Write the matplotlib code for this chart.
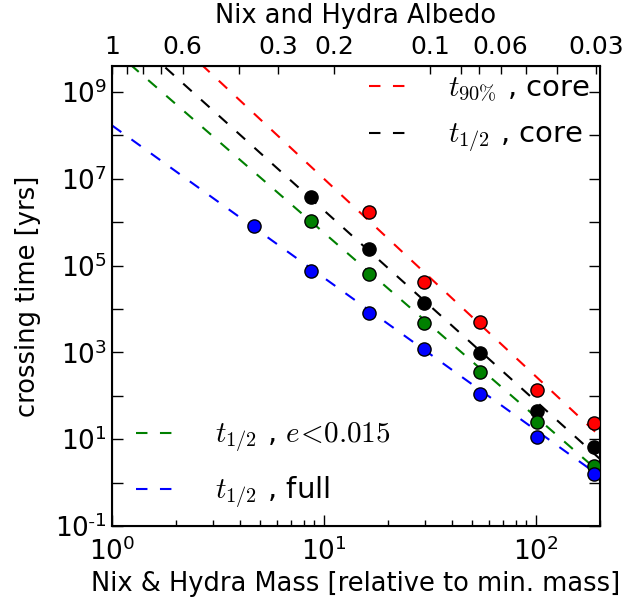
import numpy as np
import matplotlib
matplotlib.use('Agg')
import matplotlib.pyplot as plt
from matplotlib.ticker import FixedLocator, NullLocator, NullFormatter

plt.rcParams['font.family'] = 'DejaVu Sans'
plt.rcParams['mathtext.fontset'] = 'cm'

# measured points (mass relative to min. mass, crossing time in yrs)
mass = [4.67, 8.68, 16.3, 29.6, 54.4, 101, 188]
t_full = [8.2e5, 7.5e4, 8.1e3, 1.2e3, 110, 11.2, 1.58]
t_ecc = [1.07e6, 6.4e4, 4.8e3, 353, 24.9, 2.4]
t_core = [3.8e6, 2.4e5, 1.37e4, 970, 44.7, 6.6]
t90_core = [1.72e6, 4.2e4, 5.0e3, 136, 23.6]

# dashed fit lines, end points
fit_x = [1, 200]
fit_full = [1.7e8, 1.4]
fit_ecc = [1.0e10, 1.7]
fit_core = [4.7e10, 3.5]
fit_90 = [3.6e11, 11.7]

albedo_labels = [1, 0.6, 0.3, 0.2, 0.1, 0.06, 0.03]
albedo_minor = [0.9, 0.8, 0.7, 0.4, 0.08, 0.07, 0.05, 0.04]

fig = plt.figure(figsize=(6.31, 6.01), dpi=100)
ax = fig.add_axes([112/631, 1-526/601, 488/631, 460/601])

dash = (5.5, 6)
ms = 9.5

l90, = ax.plot(fit_x, fit_90, color='red', ls='--', dashes=dash, lw=1.5)
lcore, = ax.plot(fit_x, fit_core, color='black', ls='--', dashes=dash, lw=1.5)
lecc, = ax.plot(fit_x, fit_ecc, color='green', ls='--', dashes=dash, lw=1.5)
lfull, = ax.plot(fit_x, fit_full, color='blue', ls='--', dashes=dash, lw=1.5)

ax.plot(mass[2:], t90_core, 'o', color='red', mec='black', ms=ms, zorder=5)
ax.plot(mass[1:], t_core, 'o', color='black', mec='black', ms=ms, zorder=5)
ax.plot(mass[1:], t_ecc, 'o', color='green', mec='black', ms=ms, zorder=5)
ax.plot(mass, t_full, 'o', color='blue', mec='black', ms=ms, zorder=5)

ax.set_xscale('log')
ax.set_yscale('log')
ax.set_xlim(1, 200)
ax.set_ylim(0.1, 10**9.6)

yt = [10.0**k for k in range(-1, 10)]
ax.yaxis.set_major_locator(FixedLocator(yt))
ylabels = []
for k in range(-1, 10):
    if k % 2 == 0:
        ylabels.append('')
    elif k < 0:
        ylabels.append(r'$\mathdefault{10^{\text{-}%d}}$' % (-k))
    else:
        ylabels.append(r'$\mathdefault{10^{%d}}$' % k)
ax.set_yticklabels(ylabels)
ax.yaxis.set_minor_locator(NullLocator())
ax.set_xticks([1, 10, 100])
ax.set_xticklabels([r'$\mathdefault{10^{0}}$', r'$\mathdefault{10^{1}}$',
                    r'$\mathdefault{10^{2}}$'])

ax.tick_params(which='both', direction='in', top=False, right=True,
               labelsize=19)
ax.tick_params(which='major', length=8, width=1)
ax.tick_params(which='minor', length=4, width=1)
ax.tick_params(axis='x', pad=8)
for s in ax.spines.values():
    s.set_linewidth(1.5)

ax.set_xlabel('Nix & Hydra Mass [relative to min. mass]', fontsize=18.5,
              labelpad=4)
ax.set_ylabel('crossing time [yrs]', fontsize=18.5)
ax.yaxis.set_label_coords(-0.146, 0.5)

# top axis: albedo, mass ~ albedo^-1.5
ax2 = ax.twiny()
ax2.set_xscale('log')
ax2.set_xlim(ax.get_xlim())
ax2.xaxis.set_major_locator(FixedLocator([a ** -1.5 for a in albedo_labels]))
ax2.set_xticklabels([str(a) for a in albedo_labels])
ax2.xaxis.set_minor_locator(FixedLocator([a ** -1.5 for a in albedo_minor]))
ax2.xaxis.set_minor_formatter(NullFormatter())
ax2.tick_params(which='both', direction='in', labelsize=18, length=6, width=1,
                pad=5)
ax2.set_xlabel('Nix and Hydra Albedo', fontsize=18.5, labelpad=9)

leg1 = ax.legend([l90, lcore], [r'$t_{90\%}$ , core', r'$t_{1/2}$ , core'],
                 loc='upper right', bbox_to_anchor=(0.99, 0.995),
                 frameon=False, fontsize=21,
                 handlelength=1.5, handletextpad=1.2, labelspacing=0.6,
                 borderaxespad=0.0, borderpad=0.2)
ax.add_artist(leg1)
ax.legend([lecc, lfull], [r'$t_{1/2}$ , $e\!<\!0.015$', r'$t_{1/2}$ , full'],
          loc='lower left', bbox_to_anchor=(0.02, 0.0),
          frameon=False, fontsize=21,
          handlelength=1.5, handletextpad=1.2, labelspacing=0.7,
          borderaxespad=0.0, borderpad=0.5)

fig.savefig('out.png', dpi=100)
